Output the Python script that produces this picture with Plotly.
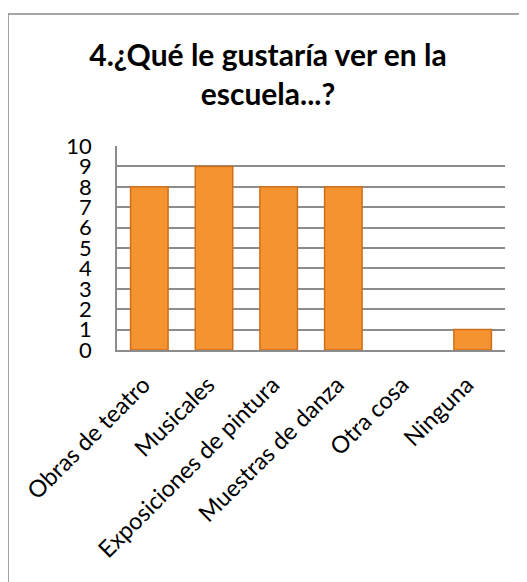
import plotly.graph_objects as go

categories = ["Obras de teatro", "Musicales", "Exposiciones de pintura",
              "Muestras de danza", "Otra cosa", "Ninguna"]
values = [8, 9, 8, 8, 0, 1]
y_ticks = list(range(0, 11))

title_text = "4.¿Qué le gustaría ver en la<br>escuela...?"

W, H = 527, 582
# page has an 8px body margin; figure coordinates = page - 8
L, R, T, B = 109, 30, 138, 240
pw = W - L - R
ph = H - T - B

fig = go.Figure()
fig.add_trace(go.Bar(
    x=categories, y=values,
    marker=dict(color="#F59331",
                line=dict(color="#CF6F1C",
                          width=[1.5 if v > 0 else 0 for v in values])),
    width=0.58,
))

def px2paper_x(px):
    return (px - L) / pw

def px2paper_y(py):
    return (H - B - py) / ph

fig.update_layout(
    width=W, height=H,
    margin=dict(l=L, r=R, t=T, b=B, autoexpand=False),
    paper_bgcolor="white", plot_bgcolor="white",
    font=dict(family="Lato, 'Open Sans', sans-serif", color="black"),
    showlegend=False,
    title=dict(text=title_text, x=260 / W, xanchor="center", xref="container",
               y=1 - 58 / H, yanchor="top", yref="container",
               font=dict(size=30, family="Lato", weight="bold", color="black")),
    xaxis=dict(
        tickangle=-45, tickfont=dict(size=23.5),
        showline=True, linecolor="#8c8c8c", linewidth=1.5,
        showgrid=False, ticks="", ticklabelstandoff=10, ticklabelshift=-6,
    ),
    yaxis=dict(
        range=[0, 10], tickvals=y_ticks, ticktext=[str(v) for v in y_ticks],
        tickfont=dict(size=22),
        showgrid=True, gridcolor="#8c8c8c", gridwidth=1.5,
        showline=True, linecolor="#8c8c8c", linewidth=1.5,
        ticks="", ticklabelstandoff=19, zeroline=False,
    ),
    shapes=[dict(type="rect", xref="paper", yref="paper",
                 x0=px2paper_x(0), x1=px2paper_x(560),
                 y0=px2paper_y(620), y1=px2paper_y(6),
                 line=dict(color="#888888", width=1.5), layer="below")],
)

fig.write_html("out.html")
